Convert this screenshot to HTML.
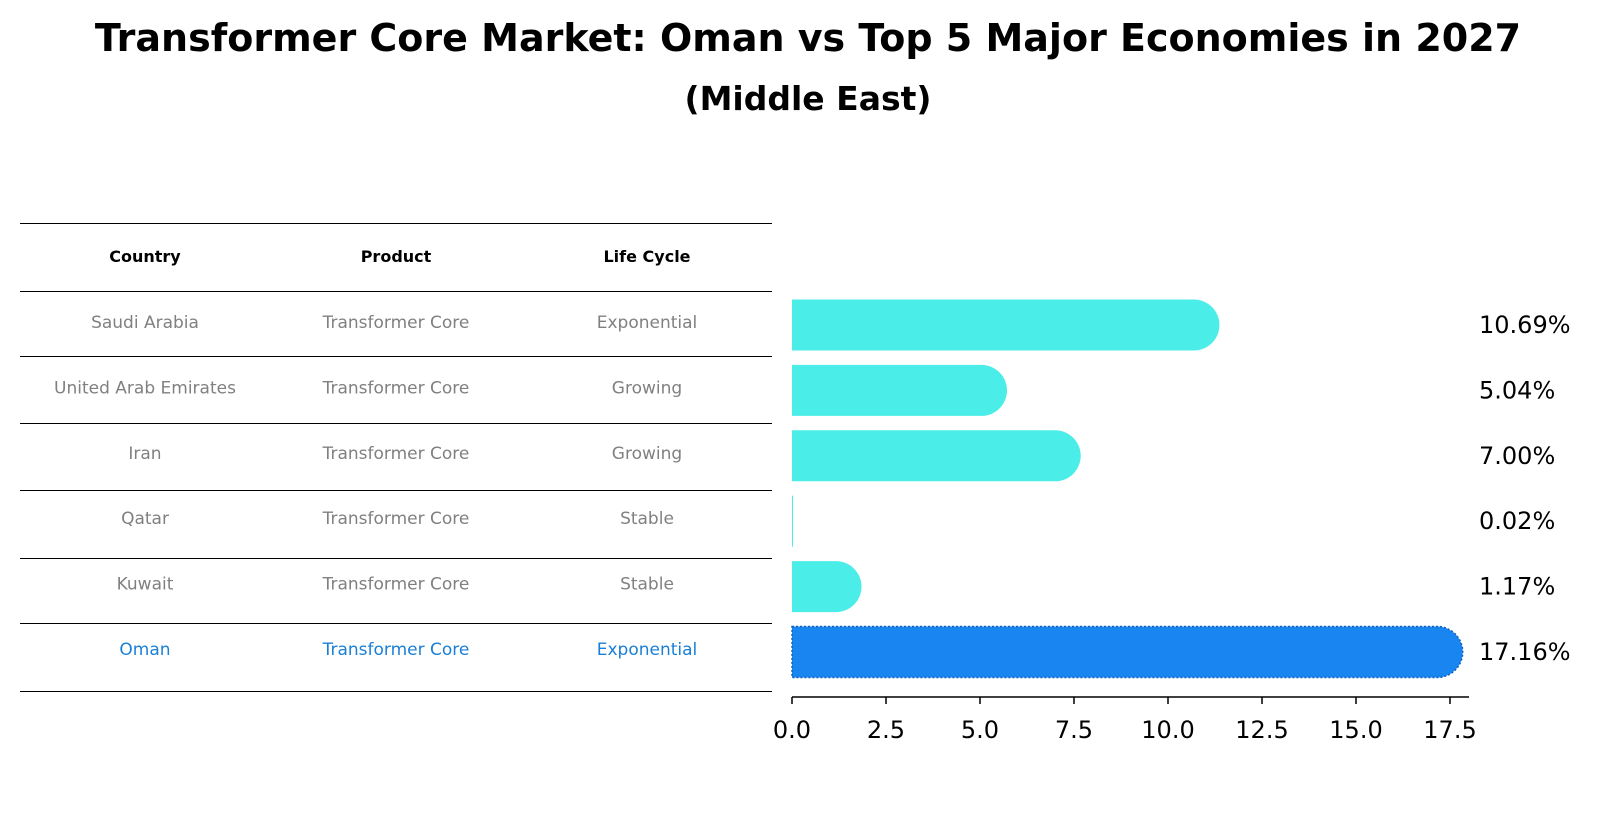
<!DOCTYPE html>
<html><head><meta charset="utf-8"><style>
body{margin:0;background:#fff;font-family:"Liberation Sans","DejaVu Sans",sans-serif;}
svg{display:block}
</style></head><body>
<svg width="1604" height="823" xmlns="http://www.w3.org/2000/svg" font-family="DejaVu Sans, Liberation Sans, sans-serif">
<text x="808" y="51" text-anchor="middle" font-size="38" font-weight="bold">Transformer Core Market: Oman vs Top 5 Major Economies in 2027</text>
<text x="808" y="110" text-anchor="middle" font-size="33" font-weight="bold">(Middle East)</text>
<g id="table"></g>
<g id="bars"></g>
</svg>
<script>
const countries=["Saudi Arabia","United Arab Emirates","Iran","Qatar","Kuwait","Oman"];
const products=["Transformer Core","Transformer Core","Transformer Core","Transformer Core","Transformer Core","Transformer Core"];
const lifeCycles=["Exponential","Growing","Growing","Stable","Stable","Exponential"];
const values=[10.69,5.04,7.00,0.02,1.17,17.16];
const ticks=[0,2.5,5,7.5,10,12.5,15,17.5];
const NS="http://www.w3.org/2000/svg";
function mk(tag,attrs,parent,text){const e=document.createElementNS(NS,tag);for(const k in attrs)e.setAttribute(k,attrs[k]);if(text!==undefined)e.textContent=text;parent.appendChild(e);return e;}
const x0=792,scale=(1450-792)/17.5;
function xs(v){return x0+v*scale;}
const rowY=[325,390,455,521,586,652];
function ys(i){return rowY[0]+i*(rowY[5]-rowY[0])/5;}
const tbl=document.getElementById('table');
const lineYs=[223,291,356,423,490,558,623,691];
lineYs.forEach(y=>{const l=mk('line',{x1:20,x2:772,y1:y+0.5,y2:y+0.5,stroke:'#000','stroke-width':1},tbl);

});
const colX=[145,396,647];
["Country","Product","Life Cycle"].forEach((h,j)=>{const t=mk('text',{x:colX[j],y:262,'text-anchor':'middle','font-size':16,'font-weight':'bold'},tbl,h);

});
countries.forEach((c,i)=>{const y=ys(i)+3;const col=i===5?'#1a7fd6':'#808080';
[c,products[i],lifeCycles[i]].forEach((v,j)=>{const t=mk('text',{x:colX[j],y:y,'text-anchor':'middle','font-size':17,fill:col},tbl,v);

});});
const g=document.getElementById('bars');
const bh=51,r=25.5;
values.forEach((v,i)=>{const cy=ys(i);const oman=i===5;const col=oman?'#1985f1':'#4bede8';
const bg=mk('g',{},g);


const w=Math.max(xs(v)-x0,1);
if(v>0.5){const ex=xs(v);
mk('path',{d:`M${x0},${cy-bh/2} H${ex} A${r},${r} 0 0 1 ${ex},${cy+bh/2} H${x0} Z`,fill:col,stroke:oman?'#1060c0':'none','stroke-width':oman?1.5:0,'stroke-dasharray':oman?'2,2':''},bg);}
else mk('rect',{x:x0,y:cy-bh/2,width:w,height:bh,fill:col},bg);
const t=mk('text',{x:1479,y:cy+8,'font-size':24},g,v.toFixed(2)+'%');

});
const ax=mk('line',{x1:x0,x2:1469,y1:697,y2:697,stroke:'#000','stroke-width':1.5},g);


ticks.forEach(tv=>{const x=xs(tv);mk('line',{x1:x,x2:x,y1:697,y2:704,stroke:'#000','stroke-width':1.5},g);
const t=mk('text',{x:x,y:738,'text-anchor':'middle','font-size':24},g,tv.toFixed(1));

});
</script>
</body></html>
